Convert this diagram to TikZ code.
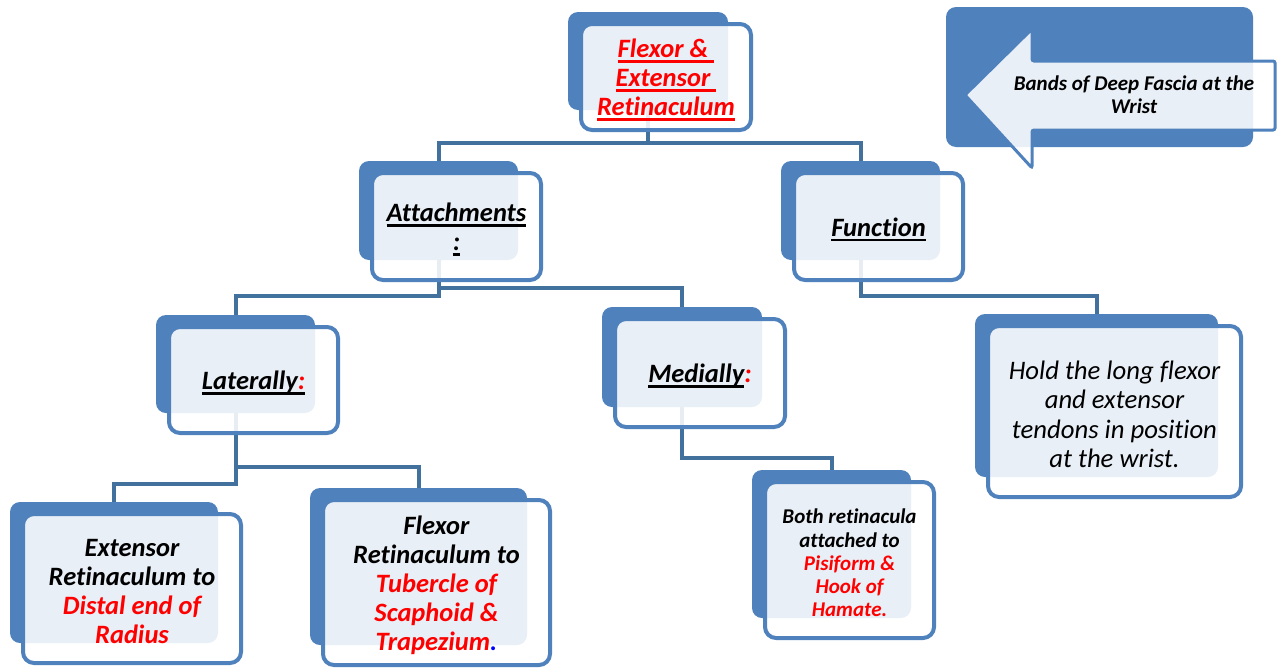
\documentclass[tikz,border=0pt]{standalone}
\usepackage{fontspec}
\setmainfont{Carlito}[Ligatures=NoCommon]
\usetikzlibrary{backgrounds}
\definecolor{boxblue}{HTML}{4F81BD}
\definecolor{linkblue}{HTML}{41719C}
\definecolor{txtred}{HTML}{FF0000}
\newcommand\myul[1]{\setbox0\hbox{#1}\rlap{\rule[-5pt]{\wd0}{2.8pt}}\box0}
\newcommand\twobox[7]{%
  \node[backbox, minimum width={(#4-#2)*1pt}, minimum height={(#5-#3)*1pt}]
    (#1b) at ({(#2+#4)/2},{(#3+#5)/2}) {};
  \node[frontbox, minimum width={(#4-#2+10)*1pt}, minimum height={(#5-#3+8)*1pt}]
    (#1f) at ({(#2+#4)/2+18},{(#3+#5)/2+16}) {};
  \node[#6, align=center, inner sep=0pt] (#1t) at ([yshift=-3pt]#1f.center) {#7};
}
\tikzset{
  backbox/.style={fill=boxblue, rounded corners=10pt, inner sep=0pt, draw=none},
  frontbox/.style={draw=boxblue, line width=4pt, fill=white, fill opacity=0.88,
    rounded corners=11pt, inner sep=0pt},
  conn/.style={draw=linkblue, line width=4pt},
  ttl/.style={font=\fontsize{26.5}{29}\selectfont\bfseries\itshape},
  small/.style={font=\fontsize{21}{23.3}\selectfont\bfseries\itshape},
  plain/.style={font=\fontsize{26.7}{29.5}\selectfont\itshape},
  arrowshape/.style={draw=boxblue, line width=3pt, fill=white, fill opacity=0.88,
    rounded corners=2pt}
}
\begin{document}
\begin{tikzpicture}[x=1pt,y=-1pt]
\useasboundingbox (0,0) rectangle (1279,667);

\twobox{root}{568}{12}{728}{110}{ttl}{\color{txtred}\myul{Flexor \&\ }\\\color{txtred}\myul{Extensor\ }\\\color{txtred}\myul{Retinaculum}}
\twobox{att}{359}{161}{518}{260}{ttl}{\myul{Attachments}\\\myul{:}}
\twobox{fun}{781}{161}{940}{260}{ttl}{\myul{Function}}
\twobox{lat}{156}{315}{315}{413}{ttl}{\myul{Laterally\textcolor{txtred}{:}}}
\twobox{med}{602}{307}{762}{407}{ttl}{\myul{Medially}\textcolor{txtred}{:}}
\twobox{ext}{10}{502}{218}{643}{ttl}{Extensor\\Retinaculum to\\\textcolor{txtred}{Distal end of}\\\textcolor{txtred}{Radius}}
\twobox{flex}{310}{488}{527}{645}{ttl}{Flexor\\Retinaculum to\\\textcolor{txtred}{Tubercle of}\\\textcolor{txtred}{Scaphoid \&}\\\textcolor{txtred}{Trapezium}\textcolor{blue}{.}}
\twobox{both}{752}{470}{911}{618}{small}{Both retinacula\\attached to\\\textcolor{txtred}{Pisiform \&}\\\textcolor{txtred}{Hook of}\\\textcolor{txtred}{Hamate.}}
\twobox{hold}{975}{314}{1218}{477}{plain}{Hold the long flexor\\and extensor\\tendons in position\\at the wrist.}

% title arrow
\node[backbox, minimum width=307pt, minimum height=140pt] (bandsb) at (1099.5,77) {};
\draw[arrowshape] (965,95) -- (1032,29) -- (1032,61) -- (1275,61) -- (1275,130)
  -- (1032,130) -- (1032,168) -- cycle;
\node[small, align=center, inner sep=0pt] (bands) at (1134,95) {Bands of Deep Fascia at the\\Wrist};

\begin{pgfonlayer}{background}
\draw[conn] (rootb.center) -- (rootb.center |- 0,143);
\draw[conn] (attb.north) |- (funb.center |- 0,143) -- (funb.north);
\draw[conn] (attb.center) |- (latb.center |- 0,296) -- (latb.north);
\draw[conn] (attb.center |- 0,288) -| (medb.north);
\draw[conn] (funb.center) |- (holdb.center |- 0,296) -- (holdb.north);
\draw[conn] (latb.center) |- (extb.center |- 0,484) -- (extb.north);
\draw[conn] (latb.center |- 0,467) -| (flexb.north);
\draw[conn] (medb.center) |- (bothb.center |- 0,458) -- (bothb.north);
\end{pgfonlayer}
\end{tikzpicture}
\end{document}
